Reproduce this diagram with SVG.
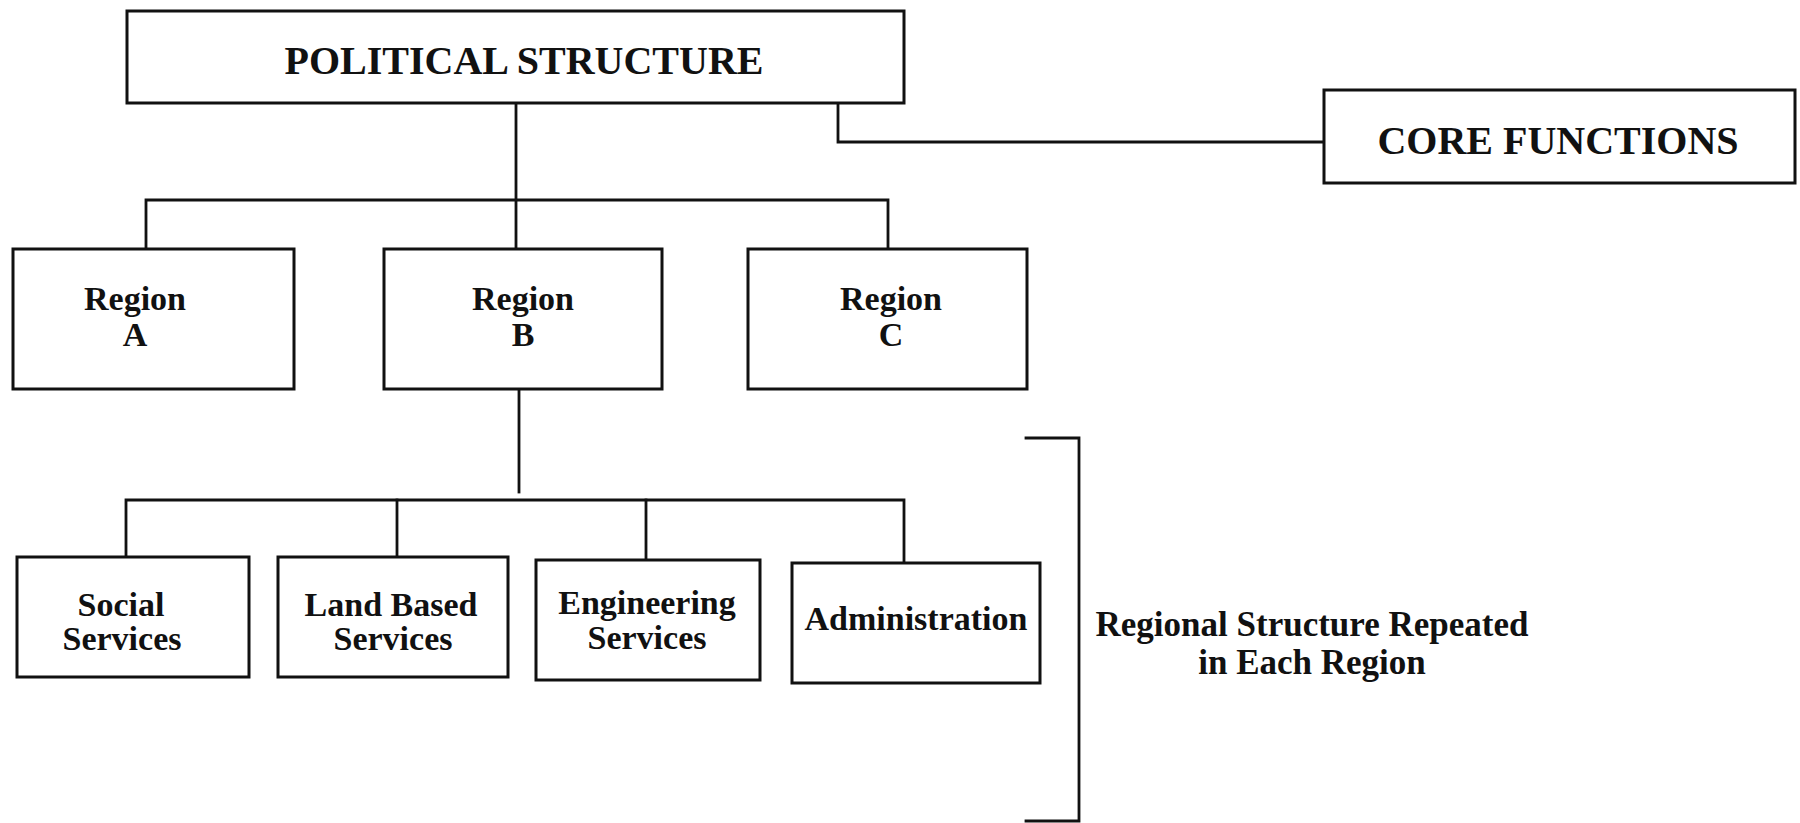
<svg xmlns="http://www.w3.org/2000/svg" width="1800" height="823" viewBox="0 0 1800 823">
  <style>
    .box { fill: #ffffff; stroke: #111111; stroke-width: 3; }
    .wire { fill: none; stroke: #111111; stroke-width: 2.8; stroke-linecap: square; }
    .lbl { font-family: "Liberation Serif", "Times New Roman", serif; font-weight: bold; fill: #111111; text-anchor: middle; }
    .big { font-size: 40px; }
    .mid { font-size: 34px; }
    .note { font-size: 35px; }
  </style>
  <rect width="1800" height="823" fill="#ffffff"/>

  <!-- connectors -->
  <g id="connectors">
    <path class="wire" d="M516 103 V249"/>
    <path class="wire" d="M838 103 V142 H1324"/>
    <path class="wire" d="M146 249 V200 H888 V249"/>
    <path class="wire" d="M519 389 V492"/>
    <path class="wire" d="M126 557 V500 H904 V563"/>
    <path class="wire" d="M397 500 V557"/>
    <path class="wire" d="M646 500 V560"/>
    <path class="wire" d="M1026 438 H1079 V821 H1026"/>
  </g>

  <g id="political">
    <rect class="box" x="127" y="11" width="777" height="92"/>
    <text class="lbl big" x="524" y="74">POLITICAL STRUCTURE</text>
  </g>

  <g id="core">
    <rect class="box" x="1324" y="90" width="471" height="93"/>
    <text class="lbl big" x="1558" y="154">CORE FUNCTIONS</text>
  </g>

  <g id="region-a">
    <rect class="box" x="13" y="249" width="281" height="140"/>
    <text class="lbl mid" x="135" y="310">Region</text>
    <text class="lbl mid" x="135" y="346">A</text>
  </g>

  <g id="region-b">
    <rect class="box" x="384" y="249" width="278" height="140"/>
    <text class="lbl mid" x="523" y="310">Region</text>
    <text class="lbl mid" x="523" y="346">B</text>
  </g>

  <g id="region-c">
    <rect class="box" x="748" y="249" width="279" height="140"/>
    <text class="lbl mid" x="891" y="310">Region</text>
    <text class="lbl mid" x="891" y="346">C</text>
  </g>

  <g id="social">
    <rect class="box" x="17" y="557" width="232" height="120"/>
    <text class="lbl mid" x="121" y="616">Social</text>
    <text class="lbl mid" x="122" y="650">Services</text>
  </g>

  <g id="land">
    <rect class="box" x="278" y="557" width="230" height="120"/>
    <text class="lbl mid" x="391" y="616">Land Based</text>
    <text class="lbl mid" x="393" y="650">Services</text>
  </g>

  <g id="engineering">
    <rect class="box" x="536" y="560" width="224" height="120"/>
    <text class="lbl mid" x="647" y="614">Engineering</text>
    <text class="lbl mid" x="647" y="649">Services</text>
  </g>

  <g id="administration">
    <rect class="box" x="792" y="563" width="248" height="120"/>
    <text class="lbl mid" x="916" y="630">Administration</text>
  </g>

  <g id="note">
    <text class="lbl note" x="1312" y="636">Regional Structure Repeated</text>
    <text class="lbl note" x="1312" y="674">in Each Region</text>
  </g>
</svg>
